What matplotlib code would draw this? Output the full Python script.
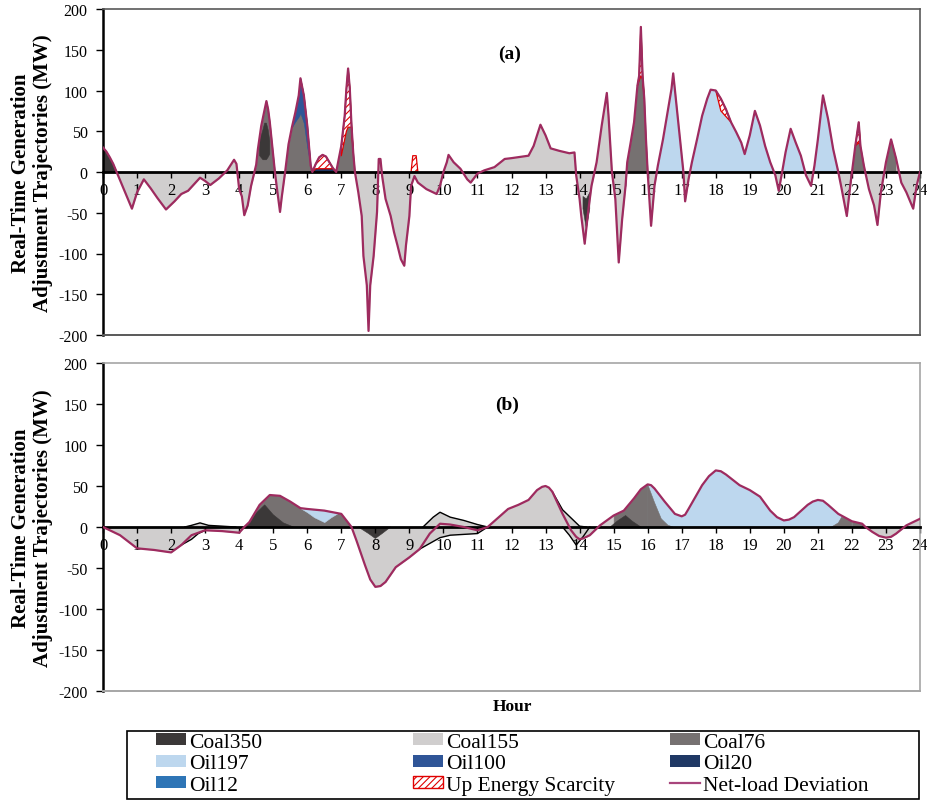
import matplotlib
matplotlib.use("Agg")
import matplotlib.pyplot as plt
from matplotlib.patches import Patch, Rectangle
from matplotlib.lines import Line2D
import numpy as np

plt.rcParams["font.family"] = ["Liberation Serif", "DejaVu Serif"]
plt.rcParams["axes.unicode_minus"] = False
plt.rcParams["hatch.linewidth"] = 0.8

nan = np.nan

COLORS = {
    "Coal350": "#3b3838",
    "Coal155": "#d0cece",
    "Coal76": "#767171",
    "Oil197": "#bdd7ee",
    "Oil100": "#2f5597",
    "Oil20": "#1f3864",
    "Oil12": "#2e75b6",
}
SCARCITY_RED = "#e00000"
NET_COLOR = "#9e2b5f"

# ---------------- panel (a): real-time dispatch ----------------
t_a = [0, 0.1, 0.2, 0.3, 0.4, 0.5, 0.6, 0.7, 0.85, 1.0, 1.2, 1.4, 1.6, 1.85, 2.1, 2.3, 2.5, 2.85, 3.0, 3.15, 3.4, 3.65, 3.85, 3.92,
       4.0, 4.08, 4.15, 4.25, 4.35, 4.45, 4.5, 4.55, 4.65, 4.75, 4.8, 4.85, 4.9, 5.0, 5.05, 5.1, 5.2, 5.25, 5.35, 5.45, 5.55, 5.65,
       5.75, 5.8, 5.9, 6.0, 6.05, 6.1, 6.15, 6.25, 6.35, 6.45, 6.55, 6.65, 6.75, 6.85, 7.0, 7.1, 7.15, 7.2, 7.25, 7.3, 7.35, 7.4,
       7.5, 7.6, 7.65, 7.75, 7.8, 7.85, 7.95,
       8.05, 8.1, 8.15, 8.2, 8.3, 8.45, 8.55, 8.65, 8.75, 8.85, 8.9, 9.0, 9.05, 9.15, 9.25, 9.5, 9.8, 9.9, 10.0, 10.1, 10.15, 10.3,
       10.5, 10.7, 10.8, 11.0, 11.2, 11.5, 11.8,
       12.0, 12.5, 12.65, 12.85, 13.0, 13.15, 13.4, 13.7, 13.85, 13.9, 14.0, 14.05, 14.15, 14.25, 14.35, 14.5, 14.65, 14.8, 14.85,
       14.95, 15.05, 15.15, 15.25, 15.35, 15.4, 15.5, 15.6, 15.7, 15.75, 15.8, 15.85, 15.9, 15.95,
       16.0, 16.05, 16.1, 16.2, 16.3, 16.45, 16.55, 16.7, 16.75, 16.85, 16.95, 17.05, 17.1, 17.2, 17.3, 17.45, 17.6, 17.75, 17.85,
       18.0, 18.15, 18.3, 18.45, 18.6, 18.75, 18.85, 19.0, 19.15, 19.3, 19.45, 19.6, 19.75, 19.85, 19.95,
       20.05, 20.2, 20.35, 20.5, 20.65, 20.8, 20.9, 21.0, 21.15, 21.3, 21.45, 21.6, 21.7, 21.85, 21.95, 22.1, 22.2, 22.25, 22.35,
       22.5, 22.65, 22.75, 22.85, 23.0, 23.15, 23.3, 23.45, 23.6, 23.8, 23.9, 24.0]
net_a = [30, 25, 18, 10, 0, -10, -20, -30, -45, -25, -9, -20, -32, -46, -36, -27, -23, -7, -11, -16, -8, 2, 15, 10,
         -21, -30, -53, -41, -17, 0, 9, 28, 57, 77, 87, 77, 61, 20, 0, -17, -49, -31, 0, 34, 55, 73,
         94, 115, 94, 57, 32, 8, 0, 10, 18, 21, 19, 12, 5, 0, 32, 69, 102, 127, 102, 57, 24, 0,
         -25, -54, -103, -139, -195, -139, -103,
         -49, 16, 16, -5, -33, -54, -74, -90, -107, -115, -90, -54, -17, -5, -13, -21, -27, -17, 0, 12, 21, 12,
         4, -9, -13, -2, 2, 6, 16,
         17, 20, 32, 58, 45, 29, 26, 23, 24, -4, -33, -54, -88, -49, -17, 12, 57, 97, 69,
         0, -33, -111, -58, -17, 12, 36, 61, 106, 118, 178, 118, 90, 40,
         0, -33, -66, -17, 8, 40, 65, 102, 121, 81, 40, 0, -36, -9, 12, 40, 69, 90, 101,
         100, 90, 77, 61, 49, 36, 22, 45, 75, 57, 32, 12, -4, -23, 0,
         24, 53, 36, 20, -4, -17, 8, 40, 94, 65, 28, 0, -21, -54, -17, 32, 61, 32, 8,
         -21, -41, -65, -25, 12, 40, 16, -13, -25, -45, -17, 0]

# which unit fills the area under the net-load curve, hour ranges
base_a = [(0.0, 0.4, "Coal350"), (0.4, 4.45, "Coal155"), (4.45, 5.05, "Coal76"), (5.05, 5.35, "Coal155"),
          (5.35, 6.15, "Coal76"), (6.15, 6.85, "Oil20"), (6.85, 7.4, "Coal76"), (7.4, 15.35, "Coal155"),
          (15.35, 16.0, "Coal76"), (16.0, 16.3, "Coal155"), (16.3, 17.05, "Oil197"), (17.05, 17.3, "Coal155"),
          (17.3, 19.75, "Oil197"), (19.75, 19.95, "Coal155"), (19.95, 20.65, "Oil197"), (20.65, 20.9, "Coal155"),
          (20.9, 21.6, "Oil197"), (21.6, 21.95, "Coal155"), (21.95, 22.35, "Coal76"), (22.35, 23.0, "Coal155"),
          (23.0, 23.3, "Coal76"), (23.3, 24.0, "Coal155")]

coal350_a_t = [4.6, 4.7, 4.75, 4.8, 4.85, 4.9, nan, 14.1, 14.2, 14.3]
coal350_a_lo = [20, 15, 15, 15, 18, 22, nan, -45, -70, -45]
coal350_a_hi = [38, 52, 60, 60, 52, 38, nan, -30, -33, -25]

oil100_a_t = [5.55, 5.65, 5.75, 5.8, 5.9, 6.0, 6.05, 6.1]
oil100_a_lo = [55, 62, 68, 72, 60, 30, 18, 8]
oil100_a_hi = [55, 73, 94, 115, 94, 57, 32, 8]

scar_a_t = [6.15, 6.25, 6.35, 6.45, 6.55, 6.65, 6.75, 6.85, nan, 7.0, 7.1, 7.15, 7.2, 7.25, 7.3, 7.35, nan,
            9.05, 9.1, 9.2, 9.25, nan, 15.7, 15.75, 15.8, 15.85, 15.9, nan, 18.0, 18.15, 18.3, 18.45, nan,
            22.1, 22.2, 22.25]
scar_a_lo = [0, 4, 4, 4, 4, 4, 4, 0, nan, 20, 40, 50, 55, 55, 55, 24, nan,
             0, 0, 0, 0, nan, 106, 112, 118, 114, 90, nan, 100, 75, 68, 61, nan,
             32, 36, 32]
scar_a_hi = [0, 10, 18, 21, 19, 12, 5, 0, nan, 32, 69, 102, 127, 102, 57, 24, nan,
             0, 20, 20, 0, nan, 106, 118, 178, 118, 90, nan, 100, 90, 77, 61, nan,
             32, 61, 32]

# ---------------- panel (b): smoothed trajectories ----------------
t_b = [0, 0.5, 1.0, 1.5, 2.0, 2.3, 2.6, 3.0, 3.5, 4.0, 4.15, 4.3, 4.6, 4.9, 5.2, 5.5, 5.8, 6.0, 6.5, 7.0,
       7.15, 7.3, 7.45, 7.7, 7.85, 8.0, 8.15, 8.3, 8.6, 9.0, 9.3, 9.6, 9.9, 10.2, 10.6, 11.0, 11.3, 11.6, 11.9, 12.2,
       12.5, 12.75, 12.9, 13.0, 13.1, 13.2, 13.5, 13.75, 13.9, 14.0, 14.1, 14.3, 14.6, 15.0, 15.3, 15.6, 15.8, 16.0,
       16.1, 16.2, 16.5, 16.8, 17.0, 17.1, 17.2, 17.6, 17.8, 18.0, 18.15, 18.3, 18.7, 19.0, 19.3, 19.6, 19.8, 20.0,
       20.15, 20.3, 20.7, 20.85, 21.0, 21.15, 21.3, 21.6, 22.0, 22.3, 22.4, 22.6, 22.8, 23.0, 23.15, 23.3, 23.6, 24.0]
net_b = [0, -10, -26, -28, -31, -22, -10, -4, -5, -7, 0, 6, 27, 39, 38, 31, 23, 22, 20, 16,
         8, 0, -17, -47, -64, -73, -72, -67, -49, -37, -27, -8, 4, 3, 0, -4, 0, 11, 22, 27,
         33, 45, 49, 50, 48, 43, 16, -4, -12, -15, -14, -10, 2, 14, 20, 35, 46, 52,
         51, 47, 31, 16, 13, 15, 22, 51, 62, 69, 68, 64, 51, 45, 37, 20, 12, 8,
         9, 12, 27, 31, 33, 32, 27, 16, 7, 4, 0, -6, -11, -13, -12, -8, 2, 10]

base_b = [(0.0, 4.15, "Coal155"), (4.15, 7.3, "Coal76"), (7.3, 15.0, "Coal155"), (15.0, 16.0, "Coal76"),
          (16.0, 22.0, "Oil197"), (22.0, 22.4, "Coal76"), (22.4, 24.0, "Coal155")]

oil197_b_t = [5.8, 6.0, 6.2, 6.5, 6.7, 6.9]
oil197_b_lo = [23, 18, 12, 6, 12, 17]
oil197_b_hi = [23, 22, 21, 20, 18, 17]

coal76_b_t = [16.0, 16.2, 16.4, 16.6, 16.75, nan, 21.4, 21.6, 21.7, 21.85, 22.0]
coal76_b_hi = [52, 30, 10, 2, 0, nan, 0, 5, 12, 10, 7]

coal350_b_t = [4.15, 4.3, 4.5, 4.75, 5.0, 5.3, 5.6, nan, 7.5, 7.8, 8.0, 8.2, 8.45, nan, 14.9, 15.1, 15.35, 15.55, 15.8]
coal350_b_lo = [0, 0, 0, 0, 0, 0, 0, nan, 0, -8, -14, -8, 0, nan, 0, 0, 0, 0, 0]
coal350_b_hi = [0, 6, 17, 27, 15, 5, 0, nan, 0, 0, 0, 0, 0, nan, 0, 7, 14, 7, 0]

# Coal155 excursions drawn with a black outline
c155_up_t = [2.4, 2.6, 2.85, 3.1, 3.5, 3.9, nan, 9.4, 9.7, 9.9, 10.2, 10.6, 11.0, 11.3, nan, 13.2, 13.5, 13.8, 14.0, 14.2]
c155_up = [0, 2, 5, 2, 1, 0, nan, 0, 12, 18, 12, 8, 3, 0, nan, 43, 21, 9, 1, 0]
c155_dn_t = [2.3, 2.6, 2.8, 3.0, nan, 9.3, 9.6, 9.9, 10.2, 10.6, 11.0, 11.3, nan, 13.5, 13.7, 13.9, 14.1, 14.3]
c155_dn = [-22, -15, -8, -4, nan, -27, -20, -13, -10, -9, -8, 0, nan, 0, -10, -22, -12, 0]

hours = list(range(0, 25))
mw_ticks = list(range(-200, 201, 50))


def fill_base(ax, t, net, segments):
    t = np.asarray(t, float)
    net = np.asarray(net, float)
    for s, e, unit in segments:
        m = (t >= s - 1e-9) & (t <= e + 1e-9)
        ax.fill_between(t, 0, net, where=m, color=COLORS[unit], lw=0.4, zorder=1)


def style_axes(ax, frame_color):
    ax.set_xlim(0, 24)
    ax.set_ylim(-200, 200)
    ax.set_xticks(hours)
    ax.set_yticks(mw_ticks)
    ax.spines["bottom"].set_position(("data", 0))
    ax.spines["bottom"].set_linewidth(2)
    ax.spines["bottom"].set_color("black")
    ax.spines["bottom"].set_zorder(2.5)
    ax.spines["left"].set_linewidth(1.8)
    ax.spines["left"].set_color("black")
    for side in ("top", "right"):
        ax.spines[side].set_color(frame_color)
        ax.spines[side].set_linewidth(1.2)
    ax.axhline(-200, color=frame_color, lw=1.4, clip_on=False, zorder=5)
    ax.tick_params(axis="x", direction="out", length=4, width=1, pad=3, labelsize=12)
    ax.tick_params(axis="y", direction="out", length=5, width=1, pad=6, labelsize=11.5)


fig = plt.figure(figsize=(9.27, 8.04), dpi=100)
ax_a = fig.add_axes([103 / 927, 1 - 336 / 804, 817 / 927, 326 / 804])
ax_b = fig.add_axes([103 / 927, 1 - 692 / 804, 817 / 927, 328 / 804])

# panel (a)
fill_base(ax_a, t_a, net_a, base_a)
ax_a.fill_between(coal350_a_t, coal350_a_lo, coal350_a_hi, color=COLORS["Coal350"], lw=0.4, zorder=1.2)
ax_a.fill_between(oil100_a_t, oil100_a_lo, oil100_a_hi, color=COLORS["Oil100"], lw=0.4, zorder=1.3)
ax_a.fill_between(scar_a_t, scar_a_lo, scar_a_hi, facecolor="white", edgecolor=SCARCITY_RED,
                  hatch="/////", lw=0.9, zorder=1.5)
ax_a.plot(t_a, net_a, color=NET_COLOR, lw=1.6, zorder=3)
style_axes(ax_a, "#595959")
ax_a.text(0.498, 0.865, "(a)", transform=ax_a.transAxes, ha="center", va="center",
          fontsize=14, fontweight="bold")

# panel (b)
fill_base(ax_b, t_b, net_b, base_b)
ax_b.fill_between(c155_up_t, 0, c155_up, color=COLORS["Coal155"], lw=0.4, zorder=1.1)
ax_b.fill_between(c155_dn_t, 0, c155_dn, color=COLORS["Coal155"], lw=0.4, zorder=1.1)
ax_b.fill_between(coal76_b_t, 0, coal76_b_hi, color=COLORS["Coal76"], lw=0.4, zorder=1.2)
ax_b.fill_between(oil197_b_t, oil197_b_lo, oil197_b_hi, color=COLORS["Oil197"], lw=0.4, zorder=1.3)
ax_b.fill_between(coal350_b_t, coal350_b_lo, coal350_b_hi, color=COLORS["Coal350"], lw=0.4, zorder=1.4)
ax_b.plot(c155_up_t, c155_up, color="black", lw=1.0, zorder=1.8)
ax_b.plot(c155_dn_t, c155_dn, color="black", lw=1.0, zorder=1.8)
ax_b.plot(t_b, net_b, color=NET_COLOR, lw=1.6, zorder=3)
style_axes(ax_b, "#a6a6a6")
ax_b.text(0.494, 0.875, "(b)", transform=ax_b.transAxes, ha="center", va="center",
          fontsize=14, fontweight="bold")

ylabel = "Real-Time Generation\nAdjustment Trajectories (MW)"
for yc in (1 - 173 / 804, 1 - 528 / 804):
    fig.text(32 / 927, yc, ylabel, rotation=90, ha="center", va="center", fontsize=15,
             fontweight="bold", multialignment="center", linespacing=1.1)

fig.text(512 / 927, 1 - 707 / 804, "Hour", ha="center", va="center", fontsize=12.5, fontweight="bold")

# legend: box plus three columns
fig.patches.append(Rectangle((127 / 927, 1 - 800 / 804), 792 / 927, 68 / 804, transform=fig.transFigure,
                             facecolor="none", edgecolor="black", lw=1.2))


def unit_patch(name):
    return Patch(facecolor=COLORS[name], edgecolor="none")


scar_patch = Patch(facecolor="white", edgecolor=SCARCITY_RED, hatch="/////", lw=1)
net_line = Line2D([], [], color="#a8457c", lw=1.6)
columns = [
    (156, [unit_patch("Coal350"), unit_patch("Oil197"), unit_patch("Oil12")], ["Coal350", "Oil197", "Oil12"]),
    (413, [unit_patch("Coal155"), unit_patch("Oil100"), scar_patch], ["Coal155", "Oil100", "Up Energy Scarcity"]),
    (670, [unit_patch("Coal76"), unit_patch("Oil20"), net_line], ["Coal76", "Oil20", "Net-load Deviation"]),
]
for x0, handles, labels in columns:
    fig.legend(handles, labels, loc="center left", bbox_to_anchor=(x0 / 927, 1 - 765 / 804),
               frameon=False, fontsize=15.5, handlelength=1.4, handleheight=0.47, handletextpad=0.12,
               labelspacing=0.12, borderpad=0, borderaxespad=0)

fig.savefig("out.png", dpi=100)
